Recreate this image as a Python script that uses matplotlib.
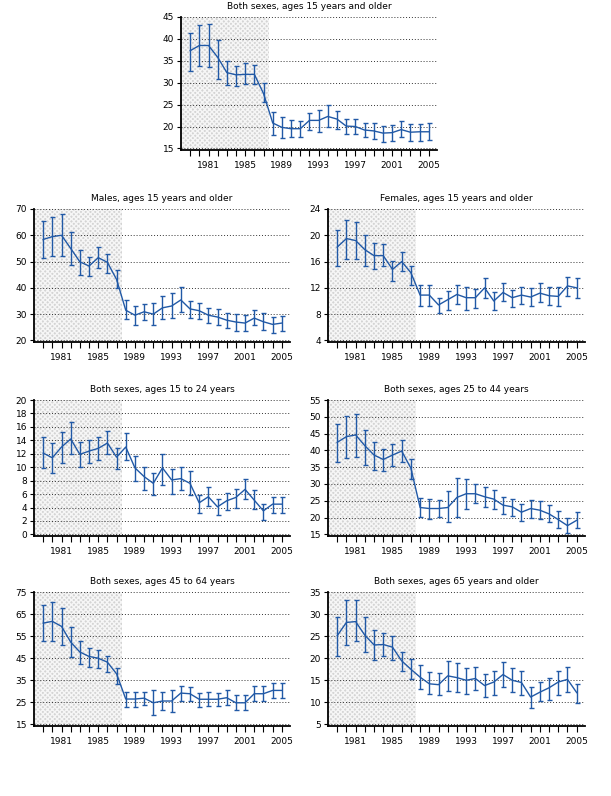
import numpy as np
import matplotlib
matplotlib.use("Agg")
import matplotlib.pyplot as plt

years = list(range(1979, 2006))
year_labels = [str(y) if (y - 1981) % 4 == 0 else "" for y in years]

titles = [
    "Both sexes, ages 15 years and older",
    "Males, ages 15 years and older",
    "Females, ages 15 years and older",
    "Both sexes, ages 15 to 24 years",
    "Both sexes, ages 25 to 44 years",
    "Both sexes, ages 45 to 64 years",
    "Both sexes, ages 65 years and older",
]

# rate, upper bound, lower bound per year (1979-2005)
all15_val = [37.3, 38.5, 38.5, 35.8, 32.3, 31.8, 31.9, 31.9, 27.5, 20.8, 19.8, 19.5, 19.5, 21.4,
             21.4, 22.3, 21.7, 20.1, 20.0, 19.2, 19.0, 18.5, 18.6, 19.3, 18.7, 18.8, 18.8]
all15_hi = [41.4, 43.1, 43.4, 39.8, 35.0, 33.8, 34.4, 34.1, 29.9, 23.3, 22.2, 21.5, 21.3, 23.1,
            23.8, 24.9, 23.5, 21.8, 21.7, 20.9, 20.7, 20.2, 20.4, 21.3, 20.5, 20.6, 20.8]
all15_lo = [32.7, 33.8, 33.6, 30.8, 29.5, 29.3, 29.6, 29.6, 25.6, 18.1, 17.3, 17.5, 17.7, 19.2,
            18.8, 19.8, 19.5, 18.3, 18.2, 17.5, 17.2, 16.5, 16.8, 17.5, 16.7, 16.8, 16.9]

male_val = [58.4, 59.5, 60.0, 55.0, 49.9, 48.3, 51.5, 49.7, 43.2, 31.5, 29.6, 30.9, 30.0, 32.4,
            33.1, 35.4, 32.0, 31.3, 29.6, 28.9, 27.7, 27.0, 26.6, 28.5, 27.1, 26.1, 26.6]
male_hi = [65.6, 67.1, 68.0, 61.4, 54.4, 51.9, 55.4, 53.0, 46.8, 35.4, 33.2, 33.8, 34.1, 37.0,
           37.9, 40.2, 35.1, 34.3, 32.4, 31.9, 30.6, 30.1, 29.5, 31.4, 30.3, 29.0, 29.4]
male_lo = [51.2, 52.1, 52.2, 48.7, 44.9, 44.5, 47.7, 45.8, 40.0, 28.0, 25.8, 27.7, 25.8, 28.1,
           28.4, 30.7, 28.6, 28.0, 26.7, 25.8, 24.6, 23.7, 23.7, 25.7, 23.9, 22.9, 23.6]

female_val = [18.2, 19.5, 19.2, 17.8, 16.9, 16.9, 14.8, 16.0, 14.3, 10.9, 10.9, 9.4, 10.2, 11.0,
              10.5, 10.5, 12.0, 10.0, 11.3, 10.5, 10.9, 10.6, 11.2, 10.8, 10.7, 12.3, 12.0]
female_hi = [20.8, 22.3, 22.0, 20.1, 18.9, 18.6, 16.1, 17.4, 15.4, 12.5, 12.5, 10.5, 11.5, 12.5,
             12.1, 11.9, 13.5, 11.4, 12.7, 11.7, 12.2, 12.0, 12.7, 12.2, 12.1, 13.7, 13.5]
female_lo = [15.4, 16.4, 16.4, 15.3, 14.8, 15.3, 13.1, 14.5, 12.5, 9.3, 9.3, 8.1, 8.6, 9.6,
             8.7, 8.9, 10.4, 8.6, 10.0, 9.1, 9.5, 9.2, 9.8, 9.4, 9.2, 10.7, 10.4]

a1524_val = [12.1, 11.4, 13.0, 14.2, 11.9, 12.4, 12.8, 13.6, 11.5, 13.0, 9.9, 8.6, 7.6, 9.9,
             8.1, 8.3, 7.6, 4.7, 5.6, 4.1, 5.0, 5.5, 6.7, 5.1, 3.5, 4.5, 4.5]
a1524_hi = [14.5, 13.6, 15.3, 16.8, 13.8, 14.0, 14.5, 15.4, 12.9, 15.1, 11.6, 10.0, 9.2, 11.9,
            9.7, 10.1, 9.4, 5.9, 7.0, 5.2, 6.2, 6.8, 8.3, 6.6, 4.5, 5.6, 5.5]
a1524_lo = [9.9, 9.2, 10.6, 12.0, 10.0, 10.6, 11.1, 12.0, 9.7, 11.0, 8.0, 6.6, 5.8, 7.4,
            6.0, 6.6, 5.9, 3.2, 4.2, 2.9, 3.6, 4.0, 5.3, 3.8, 2.1, 3.2, 3.2]

a2544_val = [42.4, 44.1, 44.6, 41.4, 38.6, 37.3, 38.6, 39.8, 34.7, 23.0, 22.7, 22.7, 23.0, 26.0,
             27.1, 27.1, 26.2, 25.5, 23.7, 23.2, 21.6, 22.7, 22.2, 21.1, 19.4, 17.6, 19.2]
a2544_hi = [47.8, 50.2, 50.8, 46.2, 42.4, 40.3, 41.9, 43.0, 37.5, 25.9, 25.6, 25.2, 27.8, 31.9,
            31.6, 29.9, 29.0, 28.3, 26.0, 25.5, 23.9, 25.3, 24.8, 23.7, 22.0, 19.9, 21.7]
a2544_lo = [36.5, 37.6, 38.1, 35.8, 34.2, 33.9, 35.3, 36.5, 31.4, 20.1, 19.6, 20.1, 18.6, 20.1,
            22.6, 24.2, 23.3, 22.7, 21.1, 20.6, 19.1, 19.9, 19.6, 18.6, 16.8, 15.3, 16.9]

a4564_val = [60.9, 61.7, 59.4, 52.3, 47.8, 45.8, 45.0, 43.2, 37.9, 26.5, 26.5, 26.9, 24.8, 25.6,
             25.6, 29.2, 28.9, 26.4, 26.4, 26.4, 27.1, 24.8, 24.8, 28.9, 28.9, 30.4, 30.4]
a4564_hi = [69.0, 70.5, 67.9, 59.1, 52.6, 49.7, 48.9, 45.9, 40.6, 29.8, 29.8, 29.7, 30.7, 29.9,
            30.7, 32.5, 32.1, 29.2, 29.5, 29.2, 30.7, 28.2, 28.2, 32.2, 32.4, 33.8, 33.8]
a4564_lo = [52.6, 52.8, 51.1, 45.5, 42.2, 41.2, 40.4, 38.7, 33.5, 22.9, 22.9, 23.6, 19.4, 21.4,
            20.6, 25.5, 25.5, 22.9, 23.3, 23.3, 23.6, 21.4, 21.4, 25.5, 25.5, 27.0, 27.0]

a65_val = [25.1, 28.1, 28.3, 25.2, 23.0, 23.1, 22.5, 19.4, 17.5, 15.7, 14.2, 14.0, 16.0, 15.6,
           15.0, 15.4, 13.8, 14.6, 16.3, 15.0, 14.5, 11.2, 12.3, 13.3, 14.6, 15.2, 12.2]
a65_hi = [29.4, 33.3, 33.1, 29.4, 26.3, 25.8, 25.0, 21.5, 19.9, 18.5, 16.8, 16.6, 19.4, 18.9,
          17.8, 18.1, 16.5, 17.1, 19.1, 17.7, 17.1, 13.4, 14.6, 15.6, 17.1, 18.1, 14.2]
a65_lo = [20.4, 23.1, 23.8, 21.3, 19.7, 20.4, 19.7, 17.1, 15.2, 13.0, 11.8, 11.7, 12.5, 12.3,
          12.0, 12.9, 11.2, 11.7, 13.5, 12.4, 11.7, 8.8, 10.2, 10.6, 11.7, 12.4, 9.8]

series = [
    (all15_val, all15_hi, all15_lo, np.arange(15, 46, 5)),
    (male_val, male_hi, male_lo, np.arange(20, 71, 10)),
    (female_val, female_hi, female_lo, np.arange(4, 25, 4)),
    (a1524_val, a1524_hi, a1524_lo, np.arange(0, 21, 2)),
    (a2544_val, a2544_hi, a2544_lo, np.arange(15, 56, 5)),
    (a4564_val, a4564_hi, a4564_lo, np.arange(15, 76, 10)),
    (a65_val, a65_hi, a65_lo, np.arange(5, 36, 5)),
]

W, H = 611, 796
# axes boxes in pixels: left, top, right, bottom
boxes = [
    (181, 17, 437, 150),
    (34, 209, 290, 342),
    (328, 209, 585, 342),
    (34, 400, 290, 536),
    (328, 400, 585, 536),
    (34, 592, 290, 726),
    (328, 592, 585, 726),
]

line_color = "#2159a6"
fig = plt.figure(figsize=(W / 100, H / 100), dpi=100)

for (val, hi, lo, yt), (l, t, r, b), title in zip(series, boxes, titles):
    ax = fig.add_axes([l / W, 1 - b / H, (r - l) / W, (b - t) / H])
    val = np.array(val)
    yerr = [val - np.array(lo), np.array(hi) - val]
    ax.axvspan(1977, 1987.55, facecolor="#d4d4d4", edgecolor="#f6f6f6",
               hatch="xxxxxxx", linewidth=0, zorder=0)
    ax.errorbar(years, val, yerr=yerr, color=line_color, ecolor=line_color,
                elinewidth=1.0, capsize=1.8, capthick=1.0, linewidth=1.0, zorder=3)
    span = yt[-1] - yt[0]
    ax.set_ylim(yt[0] - span * 0.012, yt[-1])
    ax.set_xlim(1978.0, 2005.9)
    ax.set_yticks(yt)
    ax.set_xticks(years)
    ax.set_xticklabels(year_labels)
    for y in yt:
        ax.axhline(y, color="#333333", linestyle=(0, (1, 2)), linewidth=0.7, zorder=1)
    ax.spines["top"].set_visible(False)
    ax.spines["right"].set_visible(False)
    ax.spines["left"].set_linewidth(1.3)
    ax.spines["bottom"].set_linewidth(1.3)
    ax.tick_params(axis="both", labelsize=6.5, direction="out", width=0.8, pad=2)
    ax.tick_params(axis="x", length=4, pad=4)
    ax.tick_params(axis="y", length=3)
    ax.set_title(title, fontsize=6.5, pad=6)

fig.savefig("out.png", dpi=100)
